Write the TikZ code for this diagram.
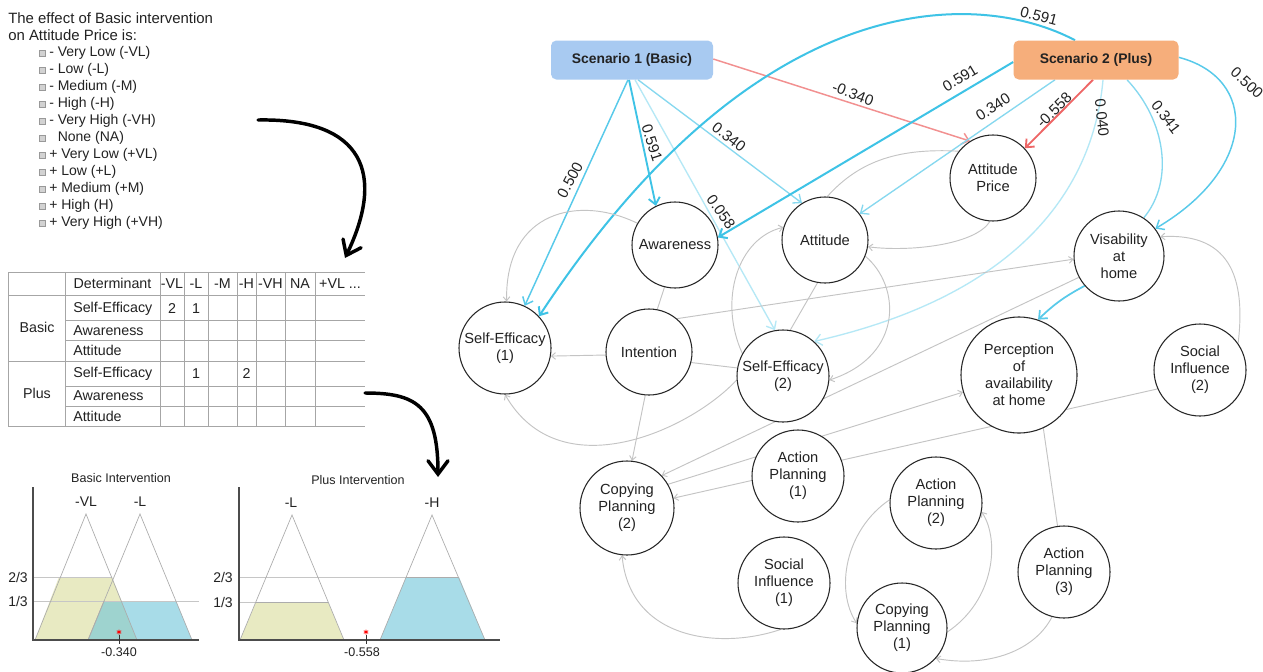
\documentclass[tikz,border=0pt]{standalone}
\usepackage{fontspec}
\setmainfont{Liberation Sans}
\usetikzlibrary{arrows.meta}
\pgfdeclarelayer{bg}
\pgfsetlayers{bg,main}
\definecolor{cyanA}{HTML}{3EC3E6}
\definecolor{cyanB}{HTML}{58CAEA}
\definecolor{cyanC}{HTML}{86D8EF}
\definecolor{cyanD}{HTML}{B5E8F6}
\definecolor{redA}{HTML}{EE6666}
\definecolor{redB}{HTML}{F29090}
\definecolor{grayE}{HTML}{C4C4C4}
\definecolor{sonefill}{HTML}{A8CAF1}
\definecolor{stwofill}{HTML}{F6AE7B}
\definecolor{yel}{HTML}{E8EAC2}
\definecolor{blubase}{HTML}{6EC5D9}
\definecolor{txt}{HTML}{222222}
\begin{document}
\begin{tikzpicture}[x=0.75pt,y=-0.75pt,
  cnode/.style={circle,draw=black!85,line width=0.8pt,fill=white,inner sep=0pt,minimum size=#1,align=center,font=\fontsize{11}{12.75}\selectfont,text=txt},
  scen/.style={rounded corners=4pt,inner sep=0pt,minimum height=29.25pt,minimum width=#1,font=\bfseries\fontsize{10.4}{12}\selectfont,text=txt},
  elab/.style={font=\fontsize{11.3}{12}\selectfont,text=txt,inner sep=0pt},
  gline/.style={draw=grayE,line width=0.7pt},
  garrow/.style={gline,-{Straight Barb[length=3pt,width=5pt]}},
  ctip/.style={-{Straight Barb[length=5pt,width=8.5pt]}},
  tline/.style={draw=gray!70,line width=0.6pt},
  ttext/.style={font=\fontsize{10.7}{12}\selectfont,text=txt,inner sep=0pt},
  ltext/.style={font=\fontsize{10.5}{12}\selectfont,text=txt,inner sep=0pt,anchor=west},
  ctext/.style={font=\fontsize{10.5}{12}\selectfont,text=txt,inner sep=0pt},
  stext/.style={font=\fontsize{9.4}{11}\selectfont,text=txt,inner sep=0pt},
  fuzz/.style={draw=gray!65,line width=0.5pt},
  lvl/.style={draw=gray!45,line width=0.6pt},
  axis/.style={draw=gray!60!black,line width=0.8pt},
  bigarrow/.style={line width=2.6pt,line cap=round,-{Straight Barb[length=10pt,width=15pt,line cap=round]}},
  bx/.style={draw=gray!80,fill=gray!35,line width=0.4pt,minimum size=4.5pt,inner sep=0pt}
]
\useasboundingbox (0,0) rectangle (1263,671);
\begin{pgfonlayer}{bg}
\fill[white] (0,0) rectangle (1263,671);
\end{pgfonlayer}

% ---------------- left: text list
\node[anchor=west,font=\fontsize{11.2}{13}\selectfont,text=txt,inner sep=0pt] (h1) at (8,18.3) {The effect of Basic intervention};
\node[anchor=west,font=\fontsize{11.2}{13}\selectfont,text=txt,inner sep=0pt] (h2) at (8,35.3) {on Attitude Price is:};
\foreach \t [count=\i from 0] in {{- Very Low (-VL)},{- Low (-L)},{- Medium (-M)},{- High (-H)},{- Very High (-VH)},{\phantom{-} None (NA)},{+ Very Low (+VL)},{+ Low (+L)},{+ Medium (+M)},{+ High (H)},{+ Very High (+VH)}}{
  \node[bx] (bx\i) at (42,53.3+17*\i) {};
  \node[ltext] (li\i) at (49,53.3+17*\i) {\t};
}

% ---------------- black arrows
\coordinate (aones) at (258,120);
\coordinate (aonee) at (345,258);
\draw[bigarrow] (aones) .. controls (365,118) and (385,175) .. (aonee);
\coordinate (atwos) at (365,393);
\coordinate (atwoe) at (438,477);
\draw[bigarrow] (atwos) .. controls (415,393) and (438,405) .. (atwoe);

% ---------------- table
\foreach \yy/\xa in {272/8,295/8,320/65,340/65,361/8,386/65,406/65,426/8}
  \draw[tline] (\xa,\yy) -- (365,\yy);
\foreach \xx in {8,65,160,184,208,237,256,285,315}
  \draw[tline] (\xx,272) -- (\xx,426);
\node[ttext] (thd) at (112.5,283.5) {Determinant};
\node[ttext] (tha) at (172,283.5) {-VL};
\node[ttext] (thb) at (196,283.5) {-L};
\node[ttext] (thc) at (222.5,283.5) {-M};
\node[ttext] (the) at (246.5,283.5) {-H};
\node[ttext] (thf) at (270.5,283.5) {-VH};
\node[ttext] (thg) at (300,283.5) {NA};
\node[ttext] (thh) at (340,283.5) {+VL ...};
\node[ttext] (tgb) at (37,327.5) {Basic};
\node[ttext] (tgp) at (37,393.5) {Plus};
\node[ttext,anchor=west] (tr1) at (73,308.5) {Self-Efficacy};
\node[ttext,anchor=west] (tr2) at (73,330.5) {Awareness};
\node[ttext,anchor=west] (tr3) at (73,350.5) {Attitude};
\node[ttext,anchor=west] (tr4) at (73,374) {Self-Efficacy};
\node[ttext,anchor=west] (tr5) at (73,396) {Awareness};
\node[ttext,anchor=west] (tr6) at (73,416) {Attitude};
\node[ttext] (tv1) at (172,308.5) {2};
\node[ttext] (tv2) at (196,308.5) {1};
\node[ttext] (tv3) at (196,374) {1};
\node[ttext] (tv4) at (246.5,374) {2};

% ---------------- chart 1 (Basic)
\fill[yel] (35,640) -- (59,577) -- (112,577) -- (137,640) -- cycle;
\fill[blubase,opacity=0.6] (88,640) -- (104,601) -- (176,601) -- (192,640) -- cycle;
\draw[lvl] (33,577) -- (112,577);
\draw[lvl] (33,601) -- (199,601);
\draw[fuzz] (35,640) -- (86,514) -- (137,640);
\draw[fuzz] (88,640) -- (140,514) -- (192,640);
\draw[fuzz] (104,601) -- (88,640);
\draw[axis] (33,487) -- (33,640) -- (199,640);
\node[stext] (cat) at (121,478) {Basic Intervention};
\node[ctext] (cavl) at (86,502) {-VL};
\node[ctext] (cal) at (140,502) {-L};
\node[ctext] (catw) at (18,577) {2/3};
\node[ctext] (caon) at (18,601) {1/3};
\draw[red,line width=0.6pt] (119,629.5)--(119,634.5) (116.8,630.7)--(121.2,633.3) (116.8,633.3)--(121.2,630.7);
\draw[black!80,line width=0.6pt] (119,635) -- (119,644);
\node[stext] (cav) at (119,652) {-0.340};

% ---------------- chart 2 (Plus)
\fill[yel] (240,640) -- (256,602) -- (328,602) -- (344,640) -- cycle;
\fill[blubase,opacity=0.6] (380,640) -- (406,577) -- (459,577) -- (485,640) -- cycle;
\draw[lvl] (239,577) -- (406,577);
\draw[lvl] (239,602) -- (256,602);
\draw[fuzz] (240,640) -- (292,515) -- (344,640);
\draw[fuzz] (380,640) -- (432,515) -- (485,640);
\draw[fuzz] (256,602) -- (328,602);
\draw[fuzz] (406,577) -- (459,577);
\draw[axis] (239,487) -- (239,640) -- (500,640);
\node[stext] (cbt) at (358,480) {Plus Intervention};
\node[ctext] (cbl) at (291,503) {-L};
\node[ctext] (cbh) at (432,503) {-H};
\node[ctext] (cbtw) at (223,577) {2/3};
\node[ctext] (cbon) at (223,602) {1/3};
\draw[red,line width=0.6pt] (366,629.5)--(366,634.5) (363.8,630.7)--(368.2,633.3) (363.8,633.3)--(368.2,630.7);
\draw[black!80,line width=0.6pt] (366,635) -- (366,644);
\node[stext] (cbv) at (362,652) {-0.558};

% ---------------- graph nodes
\node[scen=121.5pt,fill=sonefill] (s1) at (632,60) {Scenario 1 (Basic)};
\node[scen=123.75pt,fill=stwofill] (s2) at (1096,60) {Scenario 2 (Plus)};
\node[cnode=64.5pt] (ap) at (993,178) {Attitude\\Price};
\node[cnode=64.5pt] (aw) at (675,245) {Awareness};
\node[cnode=64.5pt] (att) at (825,240) {Attitude};
\node[cnode=67.5pt] (vis) at (1119,256) {Visability\\at\\home};
\node[cnode=69pt] (se1) at (505,348) {Self-Efficacy\\(1)};
\node[cnode=64.5pt] (int) at (649,352) {Intention};
\node[cnode=69pt] (se2) at (783,376) {Self-Efficacy\\(2)};
\node[cnode=87pt] (per) at (1019,375) {Perception\\of\\availability\\at home};
\node[cnode=69pt] (si2) at (1200,370) {Social\\Influence\\(2)};
\node[cnode=69pt] (ap1) at (798,476) {Action\\Planning\\(1)};
\node[cnode=70.5pt] (cp2) at (627,508) {Copying\\Planning\\(2)};
\node[cnode=69pt] (ap2) at (936,503) {Action\\Planning\\(2)};
\node[cnode=69pt] (si1) at (784,583) {Social\\Influence\\(1)};
\node[cnode=67.5pt] (cp1) at (902,628) {Copying\\Planning\\(1)};
\node[cnode=69pt] (ap3) at (1064,572) {Action\\Planning\\(3)};

% ---------------- edges (behind nodes)
\begin{pgfonlayer}{bg}
\draw[cyanB,line width=1.1pt,ctip] ([xshift=-3pt]s1.south) -- (se1.65);
\draw[cyanA,line width=1.4pt,ctip] ([xshift=-2.25pt]s1.south) -- (aw.116);
\draw[cyanD,line width=1pt,ctip] ([xshift=2.25pt]s1.south) -- (se2.100);
\draw[cyanC,line width=1pt,ctip] ([xshift=4.5pt]s1.south) -- (att.122);
\draw[redB,line width=1.1pt,ctip] ([yshift=0.75pt]s1.east) -- (ap.122);
\draw[cyanA,line width=1.5pt,ctip] ([xshift=-15.75pt]s2.north) .. controls (980,-10) and (760,-20) .. (se1.43);
\draw[cyanA,line width=1.5pt,ctip] ([yshift=-1.5pt]s2.west) -- (aw.10);
\draw[cyanC,line width=1pt,ctip] ([xshift=-30.75pt]s2.south) -- (att.37);
\draw[redA,line width=1.4pt,ctip] ([xshift=-2.25pt]s2.south) -- (ap.43);
\draw[cyanD,line width=1pt,ctip] ([xshift=5.25pt]s2.south) .. controls (1095,170) and (1040,290) .. (se2.48);
\draw[cyanC,line width=1pt] ([xshift=23.25pt]s2.south) .. controls (1165,120) and (1175,180) .. (vis.57);
\draw[cyanB,line width=1.1pt,ctip] ([yshift=2pt]s2.east) .. controls (1258,78) and (1258,168) .. (vis.37);
\draw[cyanB,line width=1.3pt,ctip] (vis.221) to[bend right=8] (per.71);

\draw[garrow] (aw.150) .. controls (580,195) and (505,210) .. (se1.88);
\draw[gline] (aw.256) -- (int.79);
\draw[garrow] (int.184) -- (se1.-10);
\draw[gline] (int.-14) -- (se2.170);
\draw[garrow] (int.50) -- (vis.184);
\draw[garrow] (int.265) -- (cp2.84);
\draw[garrow] (se2.185) .. controls (690,430) and (560,490) .. (se1.270);
\draw[gline] (att.260) -- (se2.81);
\draw[gline] (att.87) .. controls (860,160) and (900,148) .. (ap.142);
\draw[garrow] (ap.266) .. controls (975,245) and (910,252) .. (att.-9);
\draw[garrow] (se2.151) .. controls (718,300) and (738,238) .. (att.163);
\draw[garrow] (att.-22) .. controls (900,285) and (905,355) .. (se2.-5);
\draw[garrow] (vis.208) -- (cp2.43);
\draw[garrow] (cp2.30) -- (per.197);
\draw[garrow] (si2.204) -- (cp2.12);
\draw[garrow] (si2.35) .. controls (1245,285) and (1235,232) .. (vis.25);
\draw[garrow] (ap3.98) -- (per.82);
\draw[garrow] (ap3.255) .. controls (1035,650) and (990,668) .. (cp1.-42);
\draw[garrow] (cp1.-5) .. controls (995,600) and (1000,540) .. (ap2.-11);
\draw[garrow] (ap2.176) .. controls (845,530) and (835,590) .. (cp1.174);
\draw[garrow] (si1.266) .. controls (720,650) and (630,640) .. (cp2.264);
\end{pgfonlayer}

% ---------------- edge labels
\node[elab,rotate=62] (lone) at (570,180) {0.500};
\node[elab,rotate=-72] (ltwo) at (652,143) {0.591};
\node[elab,rotate=-55] (lthree) at (721,212) {0.058};
\node[elab,rotate=-38] (lfour) at (729,137) {0.340};
\node[elab,rotate=-21] (lfive) at (853,94) {-0.340};
\node[elab,rotate=-15] (lsix) at (1039,16) {0.591};
\node[elab,rotate=31] (lseven) at (960,78) {0.591};
\node[elab,rotate=33] (leight) at (993,107) {0.340};
\node[elab,rotate=45] (lnine) at (1054,110) {-0.558};
\node[elab,rotate=-84] (lten) at (1102,118) {0.040};
\node[elab,rotate=-53] (leleven) at (1166,117) {0.341};
\node[elab,rotate=-43] (ltwelve) at (1247,83) {0.500};
\end{tikzpicture}
\end{document}
